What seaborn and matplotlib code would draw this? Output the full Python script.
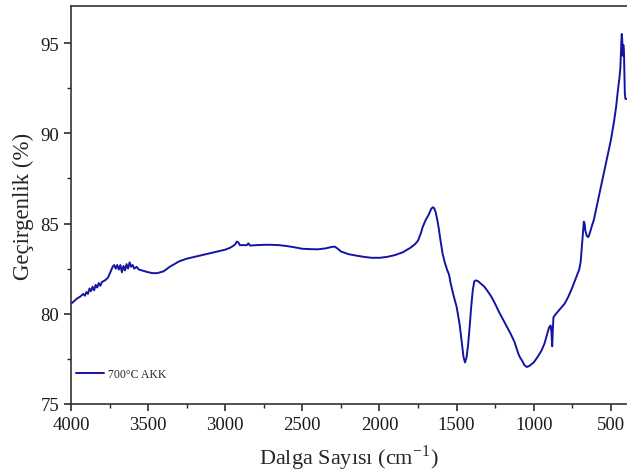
import matplotlib
matplotlib.use("Agg")
import matplotlib.pyplot as plt
from matplotlib.ticker import MultipleLocator
import pandas as pd
import seaborn as sns

# ── Data ──────────────────────────────────────────────────────────────────── #
wavenumber = [
    4000, 3980, 3960, 3940, 3920, 3910, 3900, 3890, 3880, 3870, 3860, 3850,
    3840, 3830, 3820, 3810, 3800, 3780, 3760, 3745, 3730, 3720, 3710, 3700,
    3690, 3680, 3670, 3660, 3650, 3640, 3630, 3620, 3610, 3600, 3590, 3575,
    3560, 3540, 3520, 3500, 3470, 3440, 3420, 3400, 3360, 3330, 3300, 3250,
    3200, 3150, 3100, 3050, 3000, 2970, 2950, 2935, 2925, 2915, 2905, 2880,
    2860, 2850, 2840, 2800, 2750, 2700, 2650, 2600, 2550, 2500, 2450, 2400,
    2350, 2310, 2290, 2270, 2250, 2200, 2150, 2100, 2050, 2000, 1950, 1900,
    1850, 1800, 1770, 1750, 1730, 1720, 1700, 1680, 1665, 1655, 1645, 1635,
    1625, 1615, 1605, 1590, 1575, 1560, 1550, 1545, 1540, 1525, 1510, 1500,
    1480, 1465, 1455, 1445, 1435, 1425, 1415, 1405, 1395, 1385, 1375, 1360,
    1340, 1320, 1300, 1275, 1250, 1225, 1200, 1175, 1150, 1125, 1110, 1100,
    1090, 1075, 1060, 1045, 1030, 1015, 1000, 975, 950, 930, 915, 900,
    890, 885, 880, 876, 872, 860, 830, 800, 775, 750, 725, 705,
    695, 685, 675, 670, 665, 655, 645, 635, 625, 610, 600, 575,
    550, 525, 500, 480, 465, 455, 445, 438, 432, 429, 426, 423,
    419, 415, 412, 409, 405, 400,
]
transmittance = [
    80.55, 80.7, 80.85, 80.95, 81.1, 81.0, 81.2, 81.1, 81.4, 81.25, 81.5, 81.3,
    81.6, 81.45, 81.7, 81.55, 81.75, 81.85, 82.0, 82.3, 82.6, 82.7, 82.5, 82.7,
    82.45, 82.7, 82.3, 82.65, 82.4, 82.75, 82.5, 82.85, 82.6, 82.7, 82.5, 82.6,
    82.45, 82.4, 82.35, 82.3, 82.25, 82.25, 82.3, 82.35, 82.6, 82.75, 82.9, 83.05,
    83.15, 83.25, 83.35, 83.45, 83.55, 83.65, 83.75, 83.85, 84.0, 83.95, 83.8, 83.8,
    83.8, 83.9, 83.78, 83.8, 83.82, 83.82, 83.8, 83.75, 83.68, 83.6, 83.58, 83.57,
    83.62, 83.7, 83.72, 83.6, 83.45, 83.3, 83.22, 83.15, 83.1, 83.1, 83.15, 83.25,
    83.4, 83.65, 83.85, 84.05, 84.5, 84.8, 85.2, 85.5, 85.8, 85.9, 85.85, 85.6,
    85.2, 84.7, 84.1, 83.3, 82.8, 82.4, 82.2, 82.0, 81.75, 81.2, 80.7, 80.4,
    79.4, 78.3, 77.6, 77.3, 77.6, 78.3, 79.3, 80.4, 81.3, 81.8, 81.85, 81.8,
    81.65, 81.5, 81.27, 80.95, 80.55, 80.1, 79.7, 79.3, 78.9, 78.45, 78.05, 77.8,
    77.6, 77.4, 77.15, 77.05, 77.1, 77.2, 77.3, 77.6, 77.95, 78.35, 78.8, 79.25,
    79.35, 79.0, 78.2, 79.1, 79.8, 79.95, 80.25, 80.55, 80.95, 81.45, 82.0, 82.45,
    82.9, 84.0, 85.1, 85.0, 84.6, 84.3, 84.25, 84.5, 84.8, 85.2, 85.6, 86.6,
    87.6, 88.6, 89.6, 90.6, 91.5, 92.3, 93.0, 93.6, 95.0, 95.5, 95.2, 94.3,
    94.9, 94.6, 93.5, 92.2, 91.9, 91.9,
]
sample_label = "700°C AKK"

df = pd.DataFrame({"wavenumber": wavenumber, "transmittance": transmittance})

# ── Style ─────────────────────────────────────────────────────────────────── #
sns.set_theme(style="ticks")
plt.rcParams["font.family"] = ["Liberation Serif", "DejaVu Serif"]
plt.rcParams["mathtext.fontset"] = "stix"

fig = plt.figure(figsize=(6.27, 4.77), dpi=100)
ax = fig.add_axes([71 / 627, 1 - 405 / 477, 556 / 627, 398 / 477])

sns.lineplot(data=df, x="wavenumber", y="transmittance", ax=ax,
             color="#1414a0", lw=1.4, label=sample_label, sort=False)

ax.set_xlim(4000, 395)
ax.set_ylim(75, 97.05)
ax.xaxis.set_major_locator(MultipleLocator(500))
ax.xaxis.set_minor_locator(MultipleLocator(250))
ax.yaxis.set_major_locator(MultipleLocator(5))
ax.yaxis.set_minor_locator(MultipleLocator(2.5))
ax.tick_params(which="major", direction="out", length=5, width=1.1,
               labelsize=13.5, colors="#1a1a1a")
ax.tick_params(which="minor", direction="out", length=3, width=1.0)

for side in ["left", "bottom", "top"]:
    ax.spines[side].set_linewidth(1.2)
    ax.spines[side].set_color("#333333")
ax.spines["right"].set_visible(False)

ax.set_xlabel(r"Dalga Sayısı (cm$^{\mathregular{-1}}$)", fontsize=16, labelpad=7)
ax.set_ylabel("Geçirgenlik (%)", fontsize=16.5, labelpad=5)

ax.legend(loc="center left", bbox_to_anchor=(0.0, 0.075), frameon=False,
          fontsize=8.5, handlelength=2.4, handletextpad=0.3, borderaxespad=0)

fig.savefig("out.png", dpi=100)
